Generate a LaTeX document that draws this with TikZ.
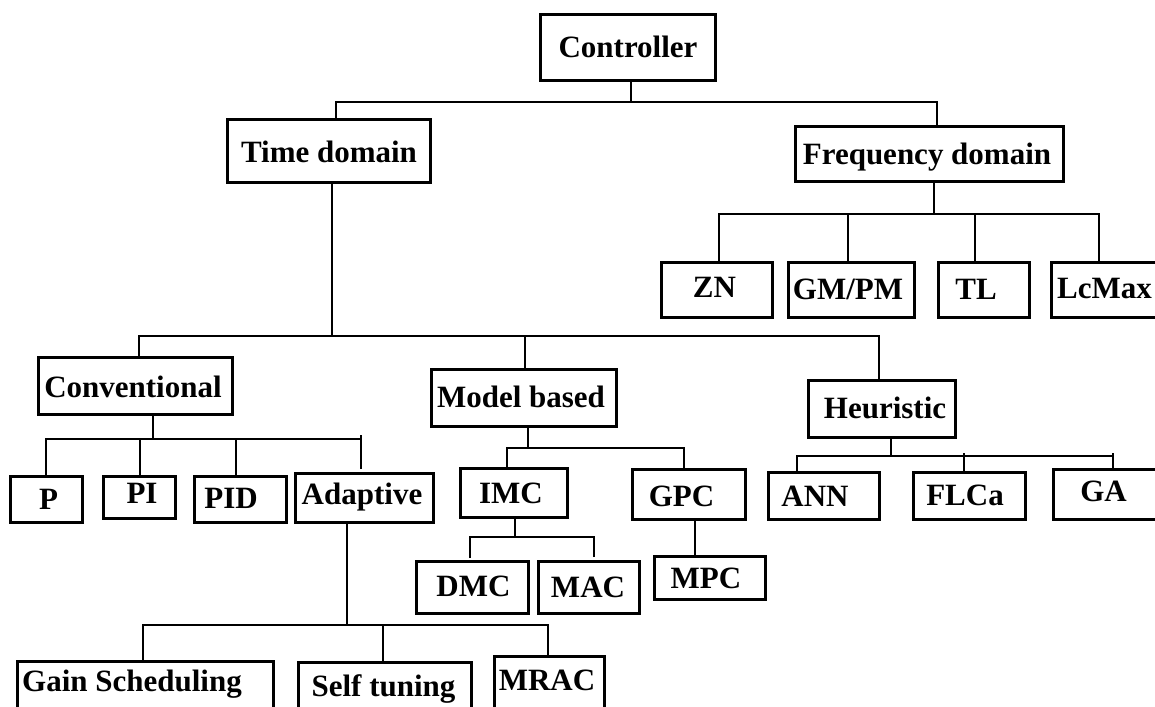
\documentclass[tikz,border=0pt]{standalone}
\usepackage{fontspec}
\setmainfont{Liberation Serif}
\tikzset{
  box/.style={draw, line width=3pt, inner sep=0pt, outer sep=0pt},
  lbl/.style={inner sep=0pt, font=\fontsize{31}{36}\selectfont\bfseries, text height=20pt, text depth=0pt},
  conn/.style={line width=2.3pt},
}
\newcommand\mybox[5]{\node[box, minimum width=#4pt, minimum height=#5pt] (#1) at (#2,#3) {};}
\newcommand\mytxt[4]{\node[lbl] (#1) at (#2,#3) {#4};}
\begin{document}
\begin{tikzpicture}[x=1pt,y=-1pt]
\fill[white] (0,0) rectangle (1155,706);
\clip (0,0) rectangle (1155,706);
% boxes
\mybox{ctrl}{627.5}{48}{175}{66}
\mybox{td}{328.5}{150.5}{203}{63}
\mybox{fd}{929}{153.5}{268}{55}
\mybox{zn}{716.5}{289.5}{111}{55}
\mybox{gm}{851}{289.5}{126}{55}
\mybox{tl}{983.5}{289.5}{91}{55}
\mybox{lc}{1106.5}{289.5}{111}{55}
\mybox{conv}{135}{385.5}{194}{57}
\mybox{mb}{523.5}{397.5}{185}{57}
\mybox{heu}{881.5}{408.5}{147}{57}
\mybox{p}{46}{499}{72}{46}
\mybox{pi}{139}{497}{72}{42}
\mybox{pid}{240}{499}{92}{46}
\mybox{ad}{364}{497.5}{138}{49}
\mybox{imc}{513.5}{492.5}{107}{49}
\mybox{gpc}{688.5}{494}{113}{50}
\mybox{dmc}{472}{587}{112}{52}
\mybox{mac}{588.5}{587}{101}{52}
\mybox{mpc}{709.5}{577.5}{111}{43}
\mybox{ann}{823.5}{495.5}{111}{47}
\mybox{fl}{969}{495.5}{112}{47}
\mybox{ga}{1107.5}{494}{109}{50}
\mybox{gs}{145}{695.5}{256}{69}
\mybox{st}{384.5}{696}{173}{68}
\mybox{mr}{549}{693}{110}{74}
% texts
\mytxt{ctrl-t}{628}{47.5}{Controller}
\mytxt{td-t}{329}{152}{Time domain}
\mytxt{fd-t}{927}{154}{Frequency domain}
\mytxt{zn-t}{714.5}{287}{ZN}
\mytxt{gm-t}{848}{289}{GM/PM}
\mytxt{tl-t}{976}{289.5}{TL}
\mytxt{lc-t}{1104.5}{288.5}{LcMax}
\mytxt{conv-t}{133}{387}{Conventional}
\mytxt{mb-t}{521}{397}{Model based}
\mytxt{heu-t}{885}{408}{Heuristic}
\mytxt{p-t}{48.5}{499.5}{P}
\mytxt{pi-t}{142}{493.5}{PI}
\mytxt{pid-t}{231}{498}{PID}
\mytxt{ad-t}{362}{494.5}{Adaptive}
\mytxt{imc-t}{511}{493}{IMC}
\mytxt{gpc-t}{681.5}{496}{GPC}
\mytxt{dmc-t}{473.5}{586}{DMC}
\mytxt{mac-t}{588}{587}{MAC}
\mytxt{mpc-t}{706}{578.5}{MPC}
\mytxt{ann-t}{815}{496}{ANN}
\mytxt{fl-t}{965}{495.5}{FLCa}
\mytxt{ga-t}{1103.5}{491.5}{GA}
\mytxt{gs-t}{132}{681}{Gain Scheduling}
\mytxt{st-t}{383.5}{686.5}{Self tuning}
\mytxt{mr-t}{547}{680.5}{MRAC}
% junctions
\coordinate (j0) at (631,102);
\coordinate (jf) at (934,214);
\coordinate (jt) at (332,336);
\coordinate (jc) at (153,439);
\coordinate (ja) at (347,625);
\coordinate (jm) at (528,448);
\coordinate (ji) at (515,537);
\coordinate (jh) at (891,456);
% connectors
\draw[conn] ([xshift=3.5pt]ctrl.south) -- (j0);
\draw[conn] ([xshift=7.5pt]td.north) |- (j0);
\draw[conn] ([xshift=8pt]fd.north) |- (j0);
\draw[conn] ([xshift=5pt]fd.south) -- (jf);
\draw[conn] ([xshift=2.5pt]zn.north) |- (jf);
\draw[conn] ([xshift=-3pt]gm.north) |- (jf);
\draw[conn] ([xshift=-8.5pt]tl.north) |- (jf);
\draw[conn] ([xshift=-7.5pt]lc.north) |- (jf);
\draw[conn] ([xshift=3.5pt]td.south) -- (jt);
\draw[conn] ([xshift=4pt]conv.north) |- (jt);
\draw[conn] ([xshift=1.5pt]mb.north) |- (jt);
\draw[conn] ([xshift=-2.5pt]heu.north) |- (jt);
\draw[conn] ([xshift=18pt]conv.south) -- (jc);
\draw[conn] (p.north) |- (jc);
\draw[conn] ([xshift=1pt]pi.north) |- (jc);
\draw[conn] ([xshift=-4pt]pid.north) |- (jc);
\draw[conn, shorten <=4pt] ([xshift=-3pt]ad.north) |- (jc);
\draw[conn] ([xshift=-3pt]ad.north) ++(0,-8) -- ++(0,-30);
\draw[conn] ([xshift=-17pt]ad.south) -- (ja);
\draw[conn] ([xshift=-2pt]gs.north) |- (ja);
\draw[conn] ([xshift=-1.5pt]st.north) |- (ja);
\draw[conn] ([xshift=-1pt]mr.north) |- (ja);
\draw[conn] ([xshift=4.5pt]mb.south) -- (jm);
\draw[conn] ([xshift=-6.5pt]imc.north) |- (jm);
\draw[conn] ([xshift=-4.5pt]gpc.north) |- (jm);
\draw[conn] ([xshift=1.5pt]imc.south) -- (ji);
\draw[conn, shorten <=3pt] ([xshift=-2pt]dmc.north) |- (ji);
\draw[conn, shorten <=4pt] ([xshift=5.5pt]mac.north) |- (ji);
\draw[conn] ([xshift=6.5pt]gpc.south) -- ++(0,37);
\draw[conn] ([xshift=9.5pt]heu.south) -- (jh);
\draw[conn] ([xshift=-26.5pt]ann.north) |- (jh);
\draw[conn] ([xshift=-5pt]fl.north) |- (jh);
\draw[conn] ([xshift=-5pt]fl.north) -- ++(0,-19);
\draw[conn] ([xshift=5.5pt]ga.north) |- (jh);
\draw[conn] ([xshift=5.5pt]ga.north) -- ++(0,-16);
\end{tikzpicture}
\end{document}
